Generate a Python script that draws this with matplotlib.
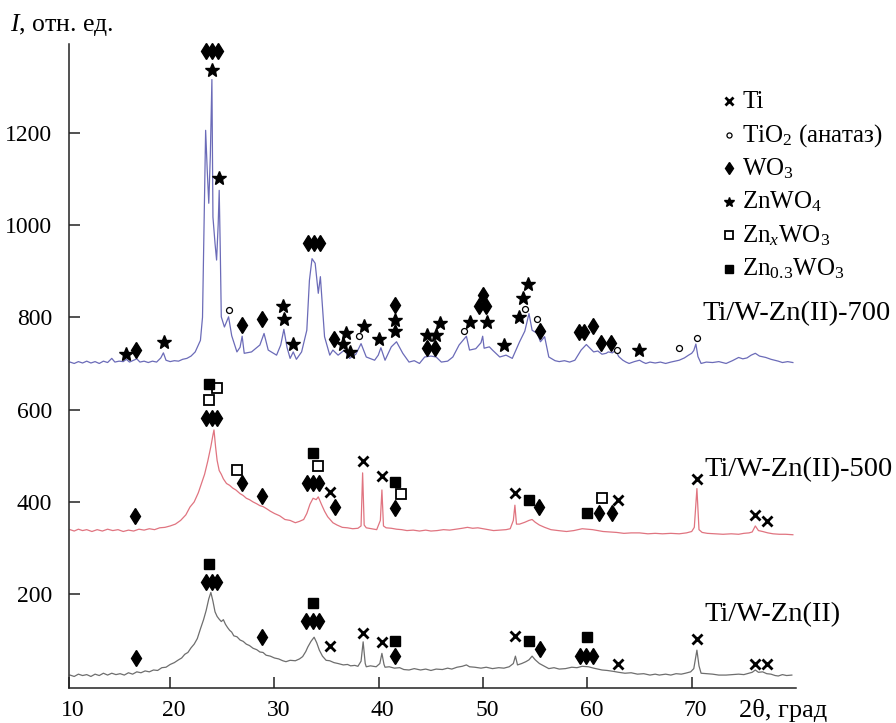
import matplotlib
matplotlib.use('Agg')
import matplotlib.pyplot as plt
from matplotlib.transforms import ScaledTranslation
from matplotlib.lines import Line2D

plt.rcParams['font.family'] = ['Liberation Serif', 'DejaVu Serif']
plt.rcParams['mathtext.fontset'] = 'custom'
plt.rcParams['mathtext.rm'] = 'Liberation Serif'
plt.rcParams['mathtext.it'] = 'Liberation Serif:italic'
plt.rcParams['mathtext.bf'] = 'Liberation Serif:bold'

# ---------------- curves ----------------
tt_700 = [10.4, 10.8, 11.2, 11.6, 12.0, 12.4, 12.8, 13.2, 13.6, 14.0, 14.4, 14.7, 15.1, 15.5, 15.8, 16.1,
          16.4, 16.8, 17.1, 17.5, 17.9, 18.3, 18.7, 19.1, 19.35, 19.6, 20.0, 20.4, 20.8, 21.2, 21.6, 22.0,
          22.4, 22.9, 23.1, 23.25, 23.4, 23.55, 23.7, 23.85, 24.0, 24.1, 24.3, 24.45,
          24.6, 24.7, 24.8, 24.9, 25.2, 25.6, 25.9, 26.4, 26.7, 26.9, 27.1, 27.8, 28.6, 29.0, 29.4, 30.2,
          30.6, 30.9, 31.2, 31.5, 31.8, 32.1, 32.6, 33.1, 33.35, 33.6, 33.9, 34.2, 34.4, 34.55, 34.8, 35.3,
          35.6, 36.1, 36.7, 37.2, 37.8, 38.3, 38.8, 39.6, 39.95, 40.2, 40.6, 41.2, 41.7, 42.3, 42.9, 43.4,
          43.9, 44.4, 45.0, 45.5, 46.0, 46.6, 47.1, 47.7, 48.4, 48.7, 49.3, 49.8, 49.96, 50.1, 50.6, 50.9,
          51.6, 52.2, 52.8, 53.5, 54.0, 54.4, 54.7, 55.2, 55.5, 55.9, 56.3, 56.9, 57.3, 57.8, 58.3, 58.8,
          59.4, 59.9, 60.3, 60.6, 61.0, 61.4, 61.8, 62.0, 62.4, 62.7, 63.0, 63.4, 63.7, 64.0, 64.5, 65.0,
          65.3, 65.6, 66.0, 66.5, 67.0, 67.5, 68.0, 68.4, 68.8, 69.3, 69.7, 70.0, 70.2, 70.4, 70.6, 70.9,
          71.4, 72.0, 72.6, 73.3, 73.9, 74.5, 74.9, 75.3, 75.7, 76.1, 76.5, 77.1, 77.6, 78.3, 78.7, 79.2,
          79.7]
int_700 = [703, 700, 704, 701, 705, 701, 704, 700, 705, 702, 711, 703, 705, 704, 709, 703,
           706, 710, 703, 705, 702, 705, 703, 712, 723, 707, 704, 706, 705, 709, 711, 716,
           725, 750, 800, 1000, 1205, 1120, 1047, 1150, 1315, 1017, 960, 924,
           1000, 1075, 950, 801, 779, 801, 760, 725, 735, 759, 722, 725, 740, 765, 729, 718,
           740, 774, 735, 711, 725, 709, 725, 772, 880, 927, 917, 852, 888, 840, 758, 718,
           729, 718, 729, 711, 720, 743, 714, 707, 718, 734, 707, 736, 747, 722, 703, 706,
           700, 714, 716, 714, 703, 705, 714, 740, 759, 729, 732, 745, 759, 733, 736, 729,
           714, 718, 711, 747, 770, 808, 772, 765, 747, 758, 714, 706, 704, 706, 703, 707,
           729, 741, 732, 725, 727, 720, 722, 725, 723, 729, 715, 707, 703, 700, 704, 707,
           703, 700, 703, 701, 703, 700, 703, 705, 707, 712, 718, 722, 728, 742, 715, 700,
           703, 702, 704, 700, 706, 713, 710, 712, 718, 722, 716, 713, 709, 705, 702, 704,
           702]

tt_500 = [10.4, 10.8, 11.2, 11.6, 12.0, 12.5, 13.0, 13.5, 14.0, 14.5, 15.0, 15.5, 16.0, 16.5, 17.0,
          17.5, 18.0, 18.5, 19.0, 19.5, 20.0, 20.5, 21.0, 21.5, 21.9, 22.3, 22.7, 23.0, 23.3, 23.6,
          23.9, 24.1, 24.2, 24.35, 24.5, 24.7, 24.9, 25.1, 25.4, 25.7, 26.0, 26.3, 26.7, 27.0, 27.3,
          27.6, 27.95, 28.3, 28.6, 28.9, 29.2, 29.6, 30.0, 30.5, 31.0, 31.5, 32.0, 32.4, 32.8, 33.1,
          33.4, 33.7, 34.0, 34.2, 34.5, 34.8, 35.1, 35.6, 36.0, 36.5, 37.0, 37.5, 38.0, 38.3, 38.45,
          38.6, 38.8, 39.3, 39.8, 40.15, 40.3, 40.45, 40.7, 41.2, 41.7, 42.2, 42.7, 43.3, 43.9, 44.5,
          45.0, 45.6, 46.2, 46.8, 47.4, 48.0, 48.5, 49.0, 49.5, 50.0, 50.5, 51.0, 51.6, 52.2, 52.6,
          52.9, 53.05, 53.2, 53.5, 54.0, 54.4, 54.7, 55.0, 55.4, 55.9, 56.5, 57.2, 58.0, 58.7, 59.5,
          60.0, 60.5, 61.0, 61.5, 62.2, 62.8, 63.5, 64.2, 65.0, 65.8, 66.5, 67.2, 68.0, 68.8, 69.5,
          70.0, 70.25, 70.5, 70.7, 71.0, 71.5, 72.2, 73.0, 73.8, 74.5, 75.0, 75.5, 75.8, 76.1, 76.4,
          76.8, 77.3, 77.8, 78.4, 79.0, 79.7]
int_500 = [340, 337, 341, 338, 340, 336, 340, 337, 341, 338, 340, 336, 339, 337, 341,
           339, 342, 340, 344, 345, 348, 352, 360, 372, 389, 400, 420, 440, 460, 488,
           520, 545, 556, 520, 490, 468, 460, 450, 440, 436, 430, 426, 418, 414, 408,
           405, 400, 396, 392, 390, 386, 380, 375, 370, 362, 360, 355, 358, 362, 375,
           395, 408, 405, 411, 395, 380, 368, 355, 350, 345, 344, 342, 343, 348, 463,
           350, 344, 342, 340, 360, 426, 348, 344, 343, 341, 340, 338, 339, 337, 339,
           337, 338, 340, 339, 341, 343, 345, 343, 344, 342, 340, 338, 339, 340, 342,
           360, 393, 352, 352, 356, 360, 362, 356, 350, 345, 340, 338, 336, 338, 342,
           341, 340, 338, 336, 335, 334, 332, 333, 333, 331, 332, 331, 332, 331, 333,
           336, 345, 429, 340, 334, 332, 331, 330, 331, 330, 332, 333, 335, 348, 338,
           336, 333, 331, 330, 330, 329]

tt_0 = [10.4, 10.8, 11.2, 11.6, 12.0, 12.4, 12.8, 13.2, 13.6, 14.0, 14.4, 14.8, 15.2, 15.6, 16.0,
        16.4, 16.8, 17.2, 17.6, 18.0, 18.4, 18.8, 19.2, 19.6, 20.0, 20.4, 20.8, 21.1, 21.4, 21.7,
        22.0, 22.3, 22.6, 22.9, 23.2, 23.45, 23.7, 23.9, 24.1, 24.3, 24.5, 24.7, 24.9, 25.1, 25.3,
        25.5, 25.7, 25.9, 26.1, 26.4, 26.7, 27.0, 27.3, 27.6, 27.95, 28.3, 28.6, 28.9, 29.2, 29.6,
        30.0, 30.4, 30.8, 31.1, 31.5, 32.0, 32.4, 32.7, 33.0, 33.2, 33.5, 33.8, 34.05, 34.3, 34.6,
        34.95, 35.3, 35.7, 36.1, 36.6, 37.0, 37.3, 37.7, 38.0, 38.3, 38.5, 38.7, 38.8, 39.2, 39.75,
        40.1, 40.3, 40.5, 40.6, 41.0, 41.5, 42.0, 42.4, 42.9, 43.4, 44.0, 44.5, 45.0, 45.5, 46.1,
        46.6, 47.0, 47.5, 48.0, 48.4, 48.7, 49.2, 49.8, 50.3, 50.9, 51.5, 52.0, 52.5, 52.9, 53.1,
        53.3, 53.7, 54.1, 54.4, 54.7, 55.0, 55.4, 55.8, 56.3, 56.8, 57.3, 57.9, 58.5, 59.0, 59.5,
        60.1, 60.6, 61.0, 61.4, 61.9, 62.5, 63.0, 63.6, 64.2, 64.8, 65.4, 66.0, 66.5, 66.9, 67.5,
        68.0, 68.5, 69.0, 69.4, 69.9, 70.2, 70.5, 70.7, 70.9, 71.4, 72.0, 72.6, 73.3, 73.9, 74.5,
        75.0, 75.5, 75.8, 76.1, 76.4, 76.8, 77.2, 77.6, 78.0, 78.3, 78.7, 79.1, 79.6]
int_0 = [25, 22, 27, 24, 26, 22, 27, 24, 29, 25, 29, 26, 28, 25, 30,
         27, 32, 30, 34, 32, 36, 35, 41, 42, 48, 52, 58, 62, 70, 74,
         84, 92, 104, 125, 145, 165, 190, 204, 185, 162, 152, 146, 141, 145, 135,
         128, 122, 118, 110, 108, 101, 98, 92, 89, 83, 80, 75, 74, 68, 66,
         62, 60, 56, 54, 57, 56, 60, 65, 76, 86, 98, 107, 95, 79, 66,
         57, 56, 52, 50, 47, 48, 45, 46, 44, 55, 97, 50, 43, 45, 43,
         50, 72, 48, 42, 43, 40, 41, 37, 36, 39, 36, 38, 35, 38, 37,
         40, 38, 42, 44, 47, 43, 42, 40, 42, 39, 41, 40, 43, 50, 66,
         47, 50, 54, 58, 66, 58, 50, 45, 39, 41, 38, 39, 42, 41, 44,
         43, 40, 38, 36, 35, 33, 31, 29, 30, 27, 28, 25, 27, 25, 27,
         25, 28, 27, 29, 32, 39, 79, 45, 29, 28, 27, 25, 25, 26, 27,
         26, 29, 31, 36, 31, 32, 28, 27, 24, 23, 26, 24, 25]

# ---------------- phase markers ----------------
# Ti/W-Zn(II)-700
tio2_700_x = [25.6, 38.06, 48.15, 54.0, 55.15, 62.8, 68.8, 70.5]
tio2_700_y = [815, 759, 771, 818, 797, 729, 733, 756]
wo3_700_x = [16.7, 23.4, 24.0, 24.6, 26.9, 28.85, 33.2, 33.8, 34.4, 35.7, 41.6, 44.6, 45.4,
             49.95, 49.65, 50.3, 55.45, 59.2, 59.7, 60.5, 61.3, 62.3]
wo3_700_y = [730, 1377, 1377, 1377, 783, 797, 960, 960, 960, 754, 826, 734, 734,
             848, 824, 824, 771, 769, 769, 781, 745, 745]
znwo4_700_x = [15.8, 19.4, 24.0, 24.7, 30.8, 30.9, 31.8, 36.6, 36.9, 37.2, 38.6, 40.0, 41.6, 41.6,
               44.6, 45.5, 45.9, 48.75, 50.35, 52.05, 53.4, 53.85, 54.3, 64.95]
znwo4_700_y = [720, 747, 1335, 1101, 824, 797, 743, 743, 767, 725, 781, 754, 795, 770,
               761, 761, 787, 790, 790, 741, 801, 841, 873, 729]

# Ti/W-Zn(II)-500
ti_500_x = [35.3, 38.5, 40.3, 53.1, 62.95, 70.5, 76.05, 77.2]
ti_500_y = [422, 489, 456, 420, 405, 449, 372, 359]
wo3_500_x = [16.6, 23.4, 23.97, 24.5, 26.9, 28.8, 33.1, 33.7, 34.3, 35.85, 41.6, 55.4, 61.15, 62.4]
wo3_500_y = [370, 582, 582, 582, 440, 413, 441, 441, 441, 389, 387, 389, 376, 376]
znxwo3_500_x = [23.7, 24.5, 26.45, 34.2, 42.1, 61.4]
znxwo3_500_y = [620, 646, 470, 478, 417, 408]
zn03wo3_500_x = [23.7, 33.7, 41.6, 54.4, 60.0]
zn03wo3_500_y = [655, 506, 444, 404, 376]

# Ti/W-Zn(II)
ti_0_x = [35.3, 38.5, 40.3, 53.1, 62.95, 70.5, 76.05, 77.2]
ti_0_y = [88, 117, 97, 110, 49, 104, 50, 50]
wo3_0_x = [16.7, 23.4, 23.97, 24.5, 28.85, 33.05, 33.7, 34.3, 41.6, 55.5, 59.3, 59.9, 60.5]
wo3_0_y = [63, 227, 227, 227, 108, 143, 143, 143, 67, 81, 67, 67, 67]
zn03wo3_0_x = [23.7, 33.7, 41.6, 54.4, 60.0]
zn03wo3_0_y = [265, 182, 99, 99, 107]

series_labels = ['Ti/W-Zn(II)-700', 'Ti/W-Zn(II)-500', 'Ti/W-Zn(II)']
label_x = [70.99, 71.2, 71.2]
label_y = [809, 469, 155]

legend_labels = ['Ti', 'TiO$_2$ (анатаз)', 'WO$_3$', 'ZnWO$_4$', 'Zn$_x$WO$_3$', 'Zn$_{0.3}$WO$_3$']

xtick_pos = [10.3, 20, 30, 40, 50, 60, 70]
xtick_labels = ['10', '20', '30', '40', '50', '60', '70']
ytick_pos = [200, 400, 600, 800, 1000, 1200]

# ---------------- styles ----------------
st_ti = dict(marker='x', ms=7, mew=2.0, color='k', ls='none')
st_tio2 = dict(marker='o', ms=4.3, mfc='white', mec='k', mew=0.9, ls='none')
st_wo3 = dict(marker='d', ms=8.3, color='k', ls='none')
st_znwo4 = dict(marker='*', ms=10, color='k', ls='none')
st_znx = dict(marker='s', ms=7.5, mfc='white', mec='k', mew=1.3, ls='none')
st_zn03 = dict(marker='s', ms=6.5, color='k', ls='none')

W, H = 896, 723
fig = plt.figure(figsize=(W / 100, H / 100), dpi=100)
ax = fig.add_axes([69 / W, 1 - 688 / H, (796 - 69) / W, (688 - 44) / H])
ax.set_xlim(10.3, 80)
ax.set_ylim(-3, 1392)

ax.plot(tt_700, int_700, color='#6b6bb8', lw=0.9)
ax.plot(tt_500, int_500, color='#e07480', lw=0.9)
ax.plot(tt_0, int_0, color='#6e6e6e', lw=0.9)

ax.plot(tio2_700_x, tio2_700_y, clip_on=False, **st_tio2)
ax.plot(wo3_700_x, wo3_700_y, clip_on=False, **st_wo3)
ax.plot(znwo4_700_x, znwo4_700_y, clip_on=False, **st_znwo4)

ax.plot(ti_500_x, ti_500_y, clip_on=False, **st_ti)
ax.plot(wo3_500_x, wo3_500_y, clip_on=False, **st_wo3)
ax.plot(znxwo3_500_x, znxwo3_500_y, clip_on=False, **st_znx)
ax.plot(zn03wo3_500_x, zn03wo3_500_y, clip_on=False, **st_zn03)

ax.plot(ti_0_x, ti_0_y, clip_on=False, **st_ti)
ax.plot(wo3_0_x, wo3_0_y, clip_on=False, **st_wo3)
ax.plot(zn03wo3_0_x, zn03wo3_0_y, clip_on=False, **st_zn03)

for lab, lx, ly in zip(series_labels, label_x, label_y):
    ax.text(lx, ly, lab, ha='left', va='center', fontsize=20.5, clip_on=False)

for s in ['top', 'right']:
    ax.spines[s].set_visible(False)
for s in ['left', 'bottom']:
    ax.spines[s].set_linewidth(1.1)
    ax.spines[s].set_color('#222222')

ax.set_xticks(xtick_pos)
ax.set_xticklabels(xtick_labels)
ax.set_yticks(ytick_pos)
ax.set_yticklabels([str(v) for v in ytick_pos])
ax.tick_params(direction='in', length=8, width=1.1, labelsize=17, color='#222222')
ax.tick_params(axis='x', pad=9)
ax.tick_params(axis='y', pad=12)
off = ScaledTranslation(4 / 100, 0, fig.dpi_scale_trans)
for t in ax.get_xticklabels():
    t.set_transform(t.get_transform() + off)

fig.text(783 / W, 1 - 711 / H, '2θ, град', ha='center', va='center', fontsize=19)
fig.text(10 / W, 1 - 25 / H, '$I$, отн. ед.', ha='left', va='center', fontsize=18.5)

# legend (manual)
leg_styles = [st_ti, st_tio2, st_wo3, st_znwo4, st_znx, st_zn03]
leg_scale = [0.85, 0.85, 0.75, 0.75, 0.85, 0.85]
row_y = [101, 134.5, 168, 201.5, 235, 268.5]
for stl, sc, lab, ry in zip(leg_styles, leg_scale, legend_labels, row_y):
    s2 = dict(stl)
    s2['ms'] = stl['ms'] * sc
    fig.add_artist(Line2D([729 / W], [1 - ry / H], transform=fig.transFigure, **s2))
    fig.text(742 / W, 1 - (ry + 7) / H, lab, ha='left', va='baseline', fontsize=18)

fig.savefig('out.png', dpi=100)
